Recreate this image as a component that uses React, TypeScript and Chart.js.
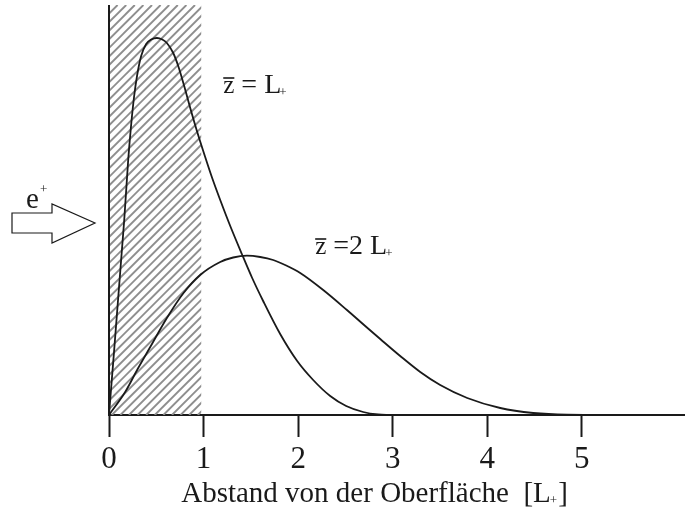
import React, { useEffect, useRef } from "react";
import { Chart, registerables } from "chart.js";

Chart.register(...registerables);

// ---- data ----
const xTickValues = [0, 1, 2, 3, 4, 5];

// curve for z̄ = L+
const curve1X = [0, 0.161, 0.203, 0.235, 0.266, 0.298, 0.34, 0.393, 0.446, 0.507, 0.563, 0.612, 0.679, 0.732, 0.795, 0.859, 0.933, 1.017, 1.091, 1.176, 1.282, 1.405, 1.514, 1.63, 1.81, 1.99, 2.159, 2.339, 2.508, 2.688, 2.847, 2.974];
const curve1Y = [0, 195, 255, 291, 319, 340, 359, 371, 375.5, 377, 375.5, 372, 362, 349, 329, 307, 283, 258, 237, 215, 189, 161, 137, 114, 81, 54, 35, 19, 9, 3, 0.5, 0];

// curve for z̄ = 2 L+
const curve2X = [0, 0.171, 0.303, 0.436, 0.612, 0.788, 0.964, 1.176, 1.313, 1.458, 1.599, 1.736, 1.874, 2.022, 2.265, 2.516, 2.709, 2.868, 3.079, 3.291, 3.502, 3.788, 4.137, 4.486, 4.846, 5.405];
const curve2Y = [0, 23, 46, 68, 97, 122, 140, 153, 157.5, 159.3, 158, 155, 149.5, 142, 125, 105, 89, 76, 59, 43, 30, 17, 7, 2, 0.3, 0];

// hatched (surface) region, in x units
const hatchStart = 0;
const hatchEnd = 0.975;

// annotation anchors (data coordinates: x, baseline y)
const label1Pos = [1.208, 322];
const label2Pos = [2.18, 161];

const xTitle = "Abstand von der Oberfläche  [L";
const serif = "'Liberation Serif', 'DejaVu Serif', serif";

const toPoints = (xs: number[], ys: number[]) => xs.map((x, i) => ({ x, y: ys[i] }));

function drawZbarLabel(ctx: CanvasRenderingContext2D, x: number, y: number, middle: string) {
  ctx.fillStyle = "#1a1a1a";
  ctx.strokeStyle = "#1a1a1a";
  ctx.textBaseline = "alphabetic";
  ctx.textAlign = "left";
  ctx.font = `25px ${serif}`;
  const zw = ctx.measureText("z").width;
  ctx.fillText("z", x, y);
  ctx.lineWidth = 1.6;
  ctx.beginPath();
  ctx.moveTo(x, y - 15);
  ctx.lineTo(x + zw, y - 15);
  ctx.stroke();
  ctx.font = `28px ${serif}`;
  let cx = x + zw;
  ctx.fillText(middle, cx, y);
  cx += ctx.measureText(middle).width;
  ctx.fillText("L", cx, y);
  cx += ctx.measureText("L").width;
  ctx.font = `13px ${serif}`;
  ctx.fillText("+", cx - 2, y + 3);
}

const overlayPlugin = {
  id: "overlay",
  beforeDatasetsDraw(chart: any) {
    const { ctx, chartArea, scales } = chart;
    const x0 = Math.max(chartArea.left, scales.x.getPixelForValue(hatchStart));
    const x1 = scales.x.getPixelForValue(hatchEnd);
    const top = chartArea.top;
    const bottom = chartArea.bottom;
    const h = bottom - top;
    ctx.save();
    ctx.beginPath();
    ctx.rect(x0, top, x1 - x0, h);
    ctx.clip();
    ctx.strokeStyle = "#8e8e8e";
    ctx.lineWidth = 1.9;
    for (let o = -h; o < x1 - x0 + 10; o += 8.6) {
      ctx.beginPath();
      ctx.moveTo(x0 + o, bottom);
      ctx.lineTo(x0 + o + h, top);
      ctx.stroke();
    }
    ctx.restore();
  },
  afterDraw(chart: any) {
    const { ctx, chartArea, scales } = chart;
    ctx.save();
    // y axis line
    ctx.strokeStyle = "#1a1a1a";
    ctx.lineWidth = 2;
    ctx.beginPath();
    ctx.moveTo(chartArea.left, chartArea.top);
    ctx.lineTo(chartArea.left, chartArea.bottom);
    ctx.stroke();

    // curve labels
    drawZbarLabel(ctx, scales.x.getPixelForValue(label1Pos[0]), scales.y.getPixelForValue(label1Pos[1]), " = ");
    drawZbarLabel(ctx, scales.x.getPixelForValue(label2Pos[0]), scales.y.getPixelForValue(label2Pos[1]), " =2 ");

    // incoming positron arrow
    const L = chartArea.left;
    const ax = L - 97;
    const cy = 223;
    ctx.fillStyle = "#ffffff";
    ctx.strokeStyle = "#1a1a1a";
    ctx.lineWidth = 1.2;
    ctx.beginPath();
    ctx.moveTo(ax, cy - 10);
    ctx.lineTo(ax + 40, cy - 10);
    ctx.lineTo(ax + 40, cy - 19);
    ctx.lineTo(ax + 83, cy);
    ctx.lineTo(ax + 40, cy + 20);
    ctx.lineTo(ax + 40, cy + 10);
    ctx.lineTo(ax, cy + 10);
    ctx.closePath();
    ctx.fill();
    ctx.stroke();
    ctx.fillStyle = "#1a1a1a";
    ctx.font = `29px ${serif}`;
    ctx.textAlign = "left";
    ctx.textBaseline = "alphabetic";
    ctx.fillText("e", ax + 14, cy - 15);
    ctx.font = `13px ${serif}`;
    ctx.fillText("+", ax + 28, cy - 30);

    // x axis title with subscript
    ctx.font = `29px ${serif}`;
    const w1 = ctx.measureText(xTitle).width;
    const w3 = ctx.measureText("]").width;
    ctx.font = `13px ${serif}`;
    const w2 = ctx.measureText("+").width;
    const total = w1 + w2 + w3;
    const cx = (chartArea.left + chartArea.right) / 2 - 22;
    let tx = cx - total / 2;
    const by = chart.height - 9;
    ctx.font = `29px ${serif}`;
    ctx.fillText(xTitle, tx, by);
    tx += w1;
    ctx.font = `13px ${serif}`;
    ctx.fillText("+", tx - 1, by + 2);
    tx += w2;
    ctx.font = `29px ${serif}`;
    ctx.fillText("]", tx, by);
    ctx.restore();
  },
};

export default function App() {
  const ref = useRef<HTMLCanvasElement | null>(null);
  useEffect(() => {
    if (!ref.current) return;
    const chart = new Chart(ref.current, {
      type: "line",
      data: {
        datasets: [
          {
            label: "z = L+",
            data: toPoints(curve1X, curve1Y),
            borderColor: "#1a1a1a",
            borderWidth: 1.8,
            pointRadius: 0,
            fill: false,
            cubicInterpolationMode: "monotone",
          },
          {
            label: "z = 2 L+",
            data: toPoints(curve2X, curve2Y),
            borderColor: "#1a1a1a",
            borderWidth: 1.8,
            pointRadius: 0,
            fill: false,
            cubicInterpolationMode: "monotone",
          },
        ],
      },
      options: {
        responsive: false,
        animation: false,
        devicePixelRatio: 1,
        layout: { padding: { left: 109, right: 1, top: 5, bottom: 0 } },
        plugins: { legend: { display: false }, tooltip: { enabled: false } },
        scales: {
          x: {
            type: "linear",
            min: 0,
            max: 6.08,
            afterBuildTicks: (scale: any) => {
              scale.ticks = xTickValues.map((v) => ({ value: v }));
            },
            afterFit: (scale: any) => {
              scale.height = 96;
            },
            ticks: {
              font: { family: serif, size: 31 },
              color: "#1a1a1a",
              padding: 4,
              maxRotation: 0,
              autoSkip: false,
              callback: (v: any) => String(v),
            },
            grid: {
              display: true,
              drawOnChartArea: false,
              drawTicks: true,
              tickLength: 22,
              tickWidth: 2,
              tickColor: "#1a1a1a",
            },
            border: { display: true, color: "#1a1a1a", width: 2 },
          },
          y: {
            display: false,
            min: 0,
            max: 410,
          },
        },
      },
      plugins: [overlayPlugin],
    });
    return () => chart.destroy();
  }, []);
  return (
    <div style={{ position: "absolute", left: 0, top: 0, width: 685, height: 511, background: "#fff" }}>
      <canvas ref={ref} width={685} height={511} />
    </div>
  );
}
